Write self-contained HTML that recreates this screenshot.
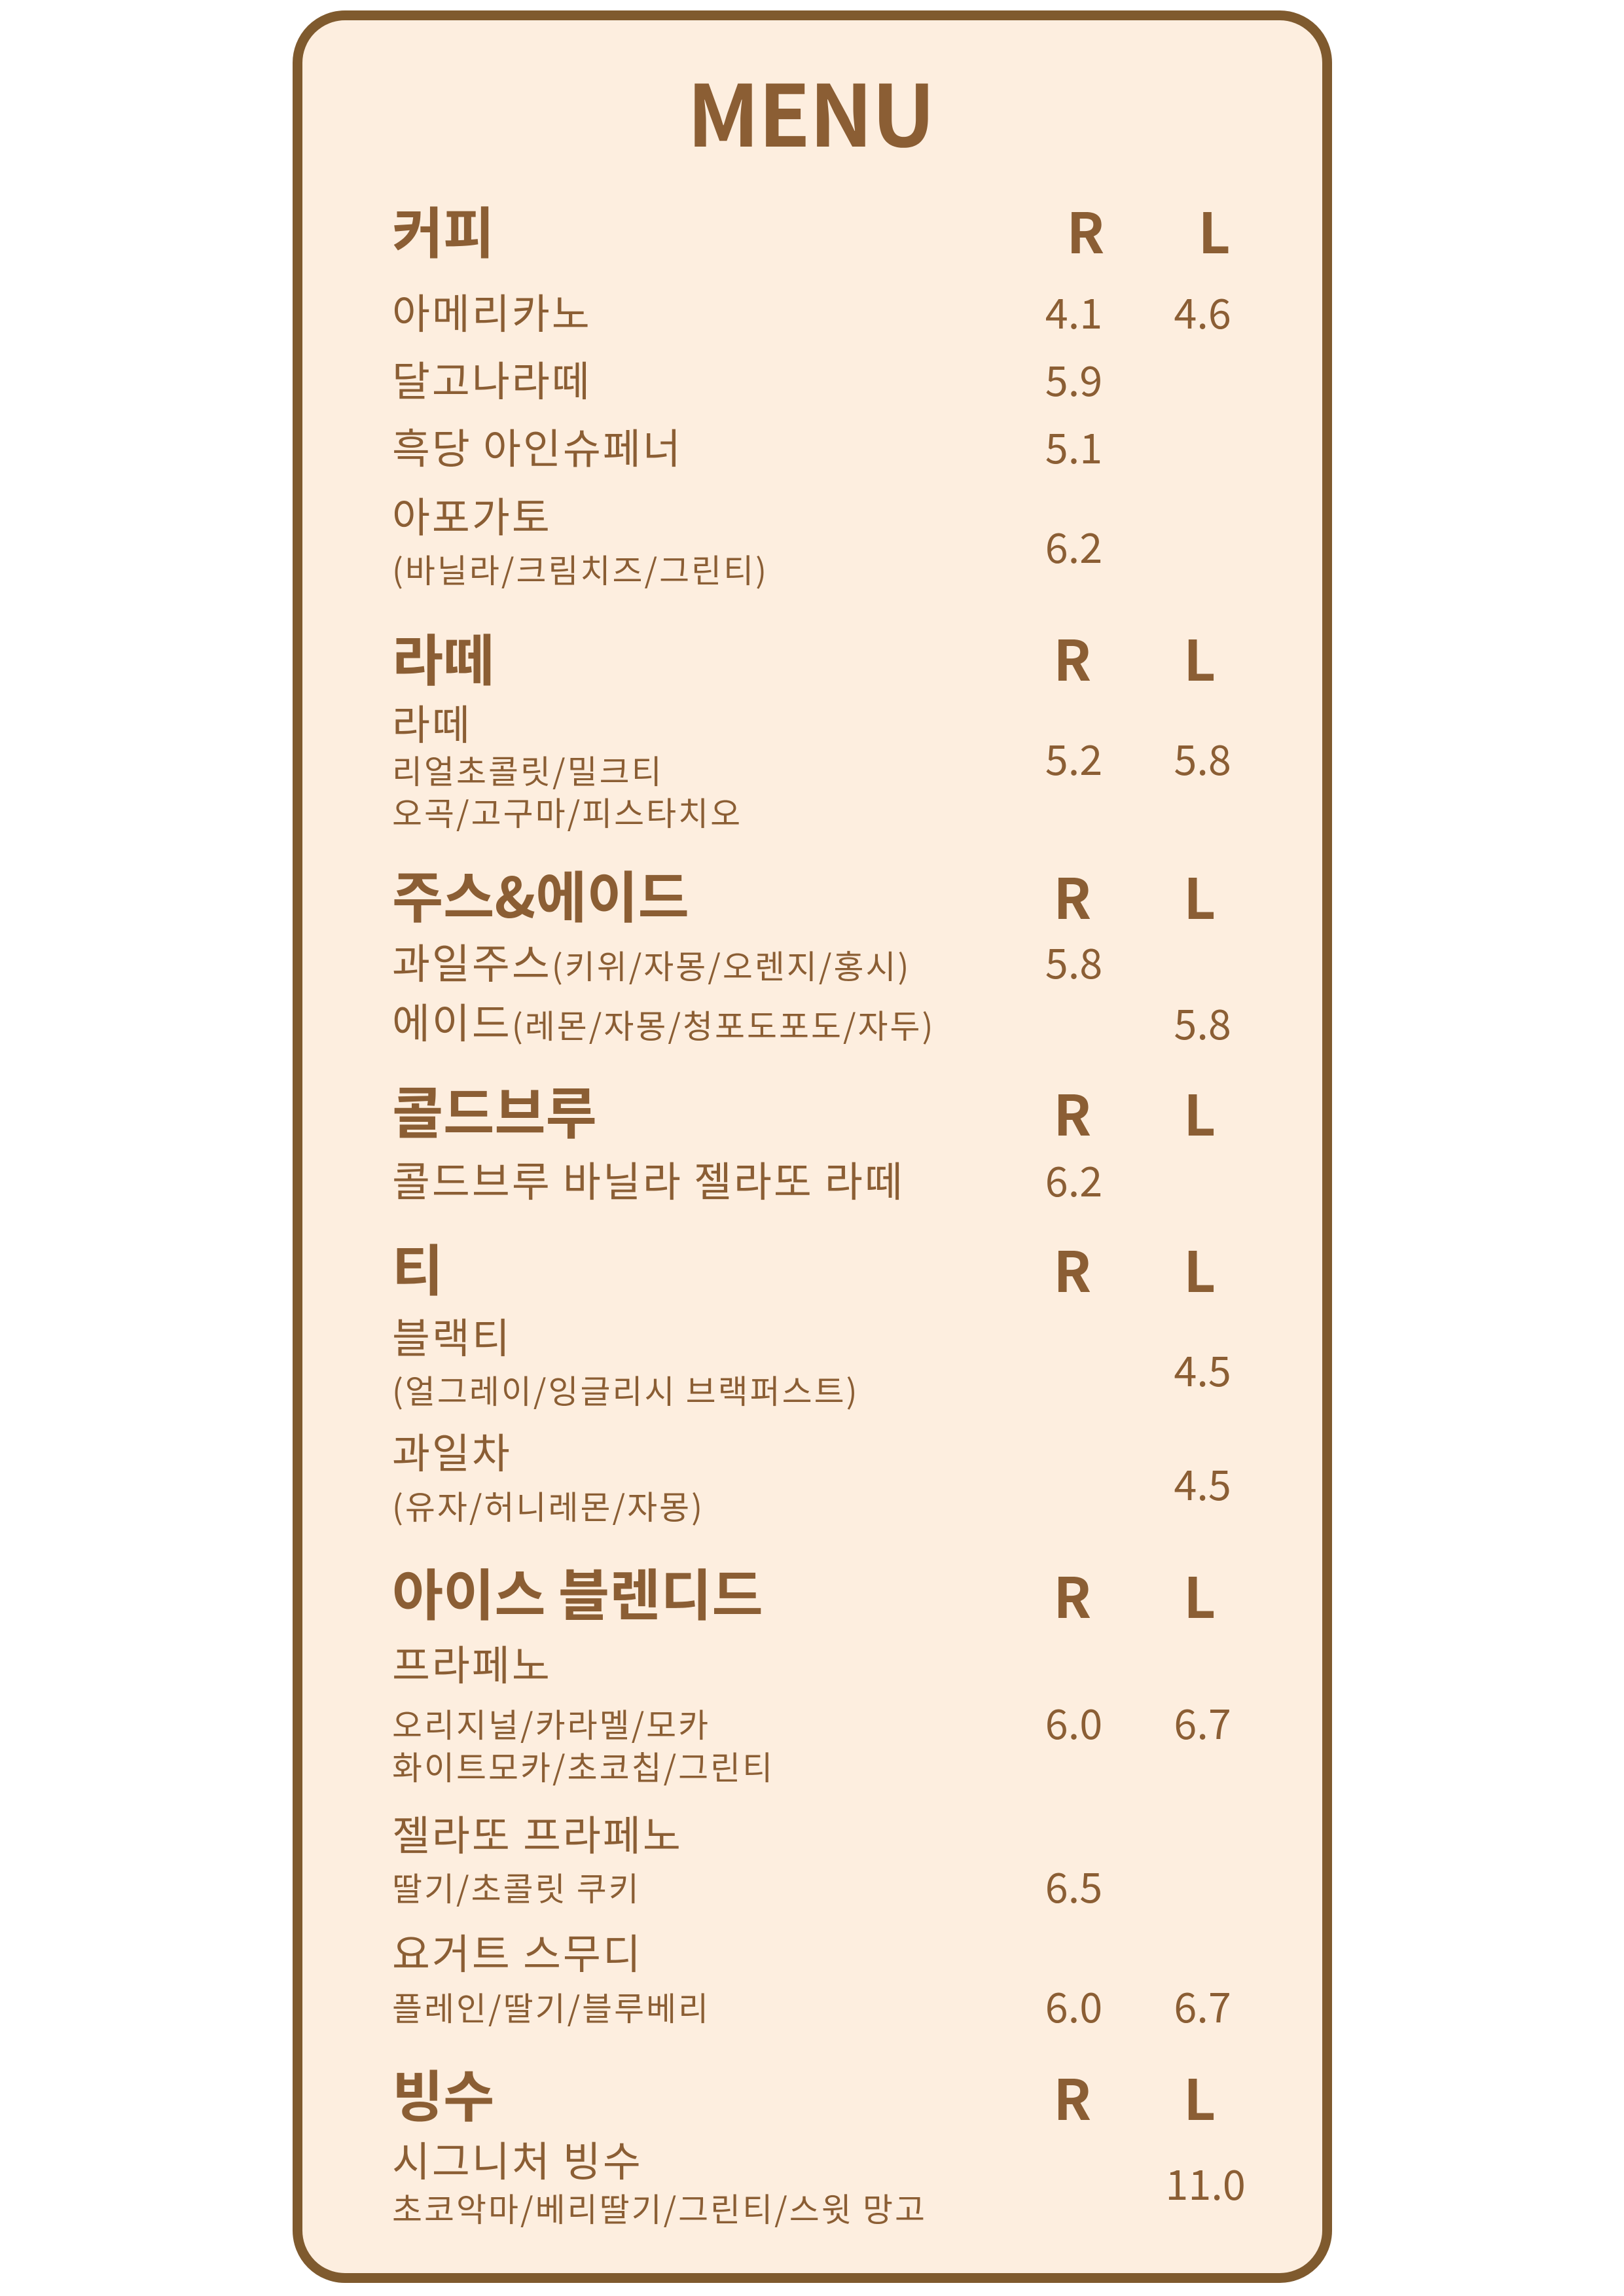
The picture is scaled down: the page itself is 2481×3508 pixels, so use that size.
<!DOCTYPE html>
<html><head><meta charset="utf-8">
<style>
html,body{margin:0;padding:0;background:#fff;}
#page{position:relative;width:2481px;height:3508px;overflow:hidden;background:#fff;font-family:"Liberation Sans","Noto Sans CJK KR",sans-serif;color:#8b5e34;}
#panel{position:absolute;left:447px;top:16px;width:1588px;height:3472px;box-sizing:border-box;border:15px solid #7f5a2e;border-radius:80px;background:#fdeedf;}
.t{position:absolute;white-space:nowrap;line-height:1.2;font-family:"Noto Sans CJK KR","WenQuanYi Zen Hei",sans-serif;}
.c{transform:translateX(-50%);}
</style></head><body>
<div id="page">
<div id="panel"></div>
</div>
<script>
const S=2.235;
const H=85,I=63,B=50,T=130;
// [text, x, y, size, weight, centered, name]
const rows=[
["MENU",554,75,T,700,1,"menu-title"],
["커피",268,157,H,700,0,"section-coffee"],["R",742,157,H,700,1,"col-r"],["L",830,157,H,700,1,"col-l"],
["아메리카노",268,213,I,400,0,"item"],["4.1",734,213,I,400,1,"price"],["4.6",822,213,I,400,1,"price"],
["달고나라떼",268,259,I,400,0,"item"],["5.9",734,259,I,400,1,"price"],
["흑당 아인슈페너",268,305,I,400,0,"item"],["5.1",734,305,I,400,1,"price"],
["아포가토",268,352,I,400,0,"item"],["(바닐라/크림치즈/그린티)",268,389,B,400,0,"item-detail"],["6.2",734,373,I,400,1,"price"],
["라떼",268,449,H,700,0,"section-latte"],["R",733,449,H,700,1,"col-r"],["L",820,449,H,700,1,"col-l"],
["라떼",268,494,I,400,0,"item"],["리얼초콜릿/밀크티",268,526,B,400,0,"item-detail"],["오곡/고구마/피스타치오",268,555,B,400,0,"item-detail"],["5.2",734,518,I,400,1,"price"],["5.8",822,518,I,400,1,"price"],
["주스&에이드",268,611,H,700,0,"section-juice"],["R",733,612,H,700,1,"col-r"],["L",820,612,H,700,1,"col-l"],
["과일주스<span style='font-size:50px'>(키위/자몽/오렌지/홍시)</span>",268,657,I,400,0,"item"],["5.8",734,657,I,400,1,"price"],
["에이드<span style='font-size:50px'>(레몬/자몽/청포도포도/자두)</span>",268,698,I,400,0,"item"],["5.8",822,699,I,400,1,"price"],
["콜드브루",268,759,H,700,0,"section-coldbrew"],["R",733,760,H,700,1,"col-r"],["L",820,760,H,700,1,"col-l"],
["콜드브루 바닐라 젤라또 라떼",268,806,I,400,0,"item"],["6.2",734,806,I,400,1,"price"],
["티",268,866,H,700,0,"section-tea"],["R",733,867,H,700,1,"col-r"],["L",820,867,H,700,1,"col-l"],
["블랙티",268,913,I,400,0,"item"],["(얼그레이/잉글리시 브랙퍼스트)",268,950,B,400,0,"item-detail"],["4.5",822,936,I,400,1,"price"],
["과일차",268,992,I,400,0,"item"],["(유자/허니레몬/자몽)",268,1029,B,400,0,"item-detail"],["4.5",822,1014,I,400,1,"price"],
["아이스 블렌디드",268,1088,H,700,0,"section-ice-blended"],["R",733,1090,H,700,1,"col-r"],["L",820,1090,H,700,1,"col-l"],
["프라페노",268,1137,I,400,0,"item"],["오리지널/카라멜/모카",268,1178,B,400,0,"item-detail"],["화이트모카/초코칩/그린티",268,1207,B,400,0,"item-detail"],["6.0",734,1177,I,400,1,"price"],["6.7",822,1177,I,400,1,"price"],
["젤라또 프라페노",268,1253,I,400,0,"item"],["딸기/초콜릿 쿠키",268,1290,B,400,0,"item-detail"],["6.5",734,1289,I,400,1,"price"],
["요거트 스무디",268,1334,I,400,0,"item"],["플레인/딸기/블루베리",268,1372,B,400,0,"item-detail"],["6.0",734,1371,I,400,1,"price"],["6.7",822,1371,I,400,1,"price"],
["빙수",268,1431,H,700,0,"section-bingsu"],["R",733,1433,H,700,1,"col-r"],["L",820,1433,H,700,1,"col-l"],
["시그니처 빙수",268,1476,I,400,0,"item"],["초코악마/베리딸기/그린티/스윗 망고",268,1509,B,400,0,"item-detail"],["11.0",824,1492,I,400,1,"price"]
];
const page=document.getElementById('page');
rows.forEach(r=>{
  const el=document.createElement('div');
  el.className='t'+(r[5]?' c':'');
  el.innerHTML=r[0];
  el.style.left=(r[1]*S)+'px';
  el.style.top=(r[2]*S-r[3]*0.6)+'px';
  el.style.fontSize=r[3]+'px';
  el.style.fontWeight=r[4];
  if((r[6]==='item'||r[6]==='item-detail')){el.style.letterSpacing='3px';}
  if(r[6]==='menu-title'){el.style.fontFamily='"Noto Sans CJK KR","DejaVu Sans",sans-serif';el.style.letterSpacing='-2px';}
  
  
  page.appendChild(el);
});
</script>
</body></html>
